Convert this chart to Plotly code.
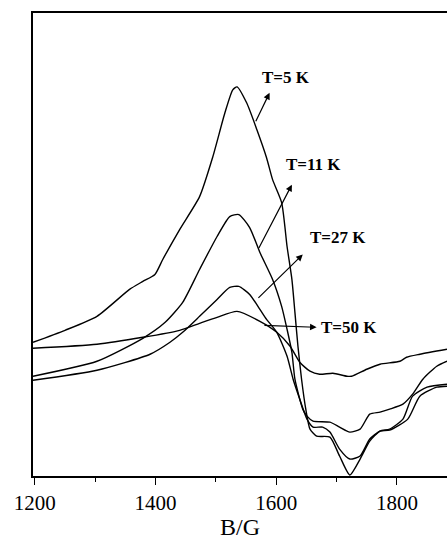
import plotly.graph_objects as go

# Magnetic field B (G) and EPR signal intensity (arbitrary units)
b_5 = [1197, 1250, 1303, 1357, 1379, 1399, 1412, 1440, 1473, 1495, 1515, 1528, 1535, 1551,
       1568, 1584, 1594, 1609, 1618, 1626, 1631, 1636, 1642, 1649, 1656, 1667, 1689, 1705,
       1722, 1739, 1755, 1772, 1788, 1810, 1826, 1850, 1883]
i_5 = [133, 145, 159, 186, 194, 201, 216, 246, 279, 319, 363, 386, 389, 373,
       346, 318, 296, 273, 229, 196, 163, 129, 96, 66, 46, 39, 38, 19,
       0, 16, 34, 44, 46, 56, 79, 88, 91]

b_11 = [1197, 1303, 1379, 1416, 1445, 1473, 1502, 1523, 1538, 1556, 1573, 1594, 1609, 1618,
        1626, 1631, 1644, 1651, 1661, 1689, 1705, 1722, 1739, 1755, 1772, 1788, 1810, 1826,
        1843, 1866, 1883]
i_11 = [99, 114, 137, 153, 173, 206, 239, 259, 261, 248, 223, 196, 169, 146,
        123, 96, 66, 59, 54, 53, 48, 43, 46, 61, 63, 66, 71, 81,
        96, 109, 114]

b_27 = [1197, 1303, 1391, 1424, 1445, 1473, 1502, 1523, 1538, 1556, 1573, 1584, 1601, 1618,
        1628, 1639, 1651, 1661, 1677, 1689, 1705, 1722, 1739, 1755, 1772, 1788, 1818, 1838,
        1866, 1883]
i_27 = [95, 105, 121, 133, 143, 159, 176, 188, 189, 181, 166, 156, 143, 119,
        96, 76, 56, 48, 48, 43, 26, 16, 19, 36, 44, 45, 56, 79,
        88, 89]

b_50 = [1197, 1303, 1379, 1440, 1473, 1502, 1535, 1573, 1601, 1623, 1639, 1656, 1672, 1694,
        1717, 1725, 1750, 1772, 1805, 1816, 1838, 1883]
i_50 = [127, 131, 138, 145, 152, 158, 164, 154, 143, 129, 113, 104, 101, 102,
        99, 99, 106, 111, 114, 118, 121, 126]

labels = ["T=5 K", "T=11 K", "T=27 K", "T=50 K"]
# label text anchor, arrow tail, arrow tip (B, intensity)
label_pos = [(1617, 398), (1661, 311), (1702, 238), (1721, 148)]
arrow_tail = [(1565, 353), (1570, 226), (1568, 176), (1578, 150)]
arrow_tip = [(1589, 383), (1626, 291), (1644, 221), (1667, 148)]

x_ticks = [1200, 1400, 1600, 1800]

serif = "Liberation Serif, Times New Roman, serif"

fig = go.Figure()
for bx, iy in [(b_5, i_5), (b_11, i_11), (b_27, i_27), (b_50, i_50)]:
    fig.add_trace(go.Scatter(x=bx, y=iy, mode="lines",
                             line=dict(color="black", width=1.4, shape="spline", smoothing=0.6),
                             showlegend=False, hoverinfo="skip"))

for lab, (lx, ly), (tx, ty), (hx, hy) in zip(labels, label_pos, arrow_tail, arrow_tip):
    fig.add_annotation(x=hx, y=hy, ax=tx, ay=ty, xref="x", yref="y", axref="x", ayref="y",
                       text="", showarrow=True, arrowhead=2, arrowsize=1.1, arrowwidth=1.2,
                       arrowcolor="black")
    fig.add_annotation(x=lx, y=ly, xref="x", yref="y", text="<b>%s</b>" % lab,
                       showarrow=False, font=dict(family=serif, size=17, color="black"))

fig.update_xaxes(range=[1197, 1883], tickvals=x_ticks, ticks="outside", ticklen=7, tickwidth=1.2,
                 tickcolor="black", showline=True, linecolor="black", linewidth=2, mirror=True,
                 showgrid=False, zeroline=False,
                 tickfont=dict(family=serif, size=21, color="black"),
                 title=dict(text="B/G", font=dict(family=serif, size=24, color="black"), standoff=2),
                 minor=dict(tickvals=[1300, 1500, 1700], ticks="outside", ticklen=4,
                            tickcolor="black", tickwidth=1))
fig.update_yaxes(range=[-1, 463], showticklabels=False, ticks="", showline=True,
                 linecolor="black", linewidth=2, mirror=False, showgrid=False, zeroline=False)

fig.update_layout(width=447, height=540, margin=dict(l=33, r=0, t=13, b=64),
                  plot_bgcolor="white", paper_bgcolor="white")

fig.write_html("out.html")
